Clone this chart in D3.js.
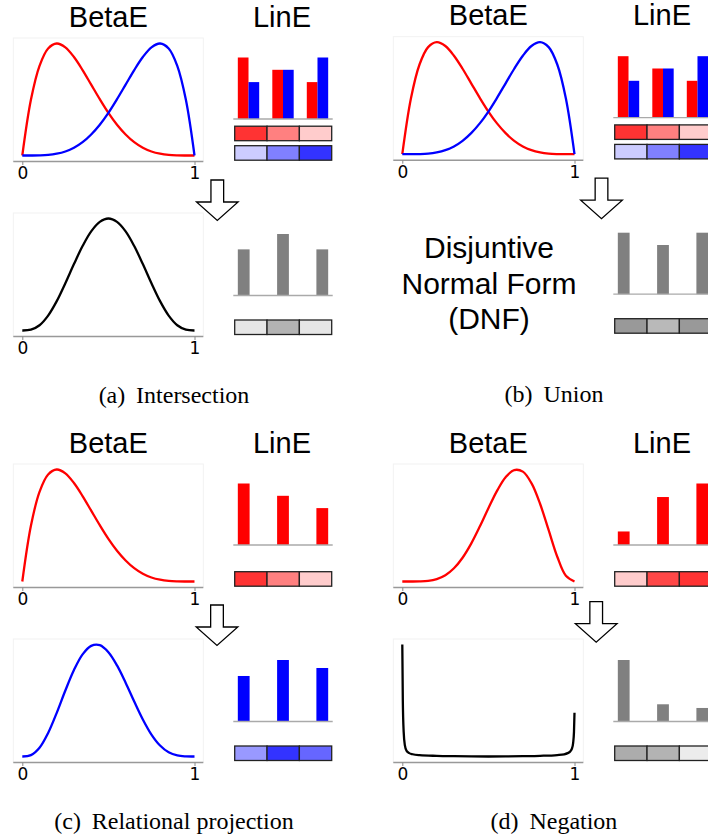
<!DOCTYPE html>
<html>
<head>
<meta charset="utf-8">
<script src="https://cdn.jsdelivr.net/npm/d3@7"></script>
<style>
  body { margin: 0; background: #fff; }
</style>
</head>
<body>
<div id="figure"></div>
<script>
let gridX = [0, 0.05, 0.1, 0.15, 0.2, 0.25, 0.3, 0.35, 0.4, 0.45, 0.5,
             0.55, 0.6, 0.65, 0.7, 0.75, 0.8, 0.85, 0.9, 0.95, 1];

// densities, scaled so the peak of each plot is 1
let betaRed  = [0, 0.497, 0.801, 0.956, 1.0, 0.966, 0.879, 0.763, 0.633, 0.503, 0.381,
                0.275, 0.188, 0.119, 0.069, 0.036, 0.016, 0.005, 0.001, 0, 0];
let betaBlue = [0, 0, 0.001, 0.005, 0.016, 0.036, 0.069, 0.119, 0.188, 0.275, 0.381,
                0.503, 0.633, 0.763, 0.879, 0.966, 1.0, 0.956, 0.801, 0.497, 0];
let betaAnd  = [0, 0.007, 0.047, 0.133, 0.262, 0.422, 0.593, 0.754, 0.885, 0.970, 1.0,
                0.970, 0.885, 0.754, 0.593, 0.422, 0.262, 0.133, 0.047, 0.007, 0];
let betaProj = [0, 0.012, 0.078, 0.210, 0.390, 0.589, 0.772, 0.912, 0.988, 0.994, 0.931,
                0.813, 0.659, 0.491, 0.331, 0.196, 0.098, 0.037, 0.009, 0.001, 0];
let betaNotIn = [0, 0, 0.001, 0.006, 0.022, 0.056, 0.118, 0.212, 0.338, 0.490, 0.654,
                 0.809, 0.931, 0.995, 0.981, 0.878, 0.694, 0.458, 0.221, 0.051, 0];
// negation output is a U shape, needs more points near the ends
let negX = [0, 0.003, 0.008, 0.015, 0.025, 0.04, 0.06, 0.1, 0.2, 0.3, 0.4, 0.5,
            0.6, 0.7, 0.8, 0.9, 0.94, 0.96, 0.975, 0.985, 0.992, 0.997, 1];
let negY = [1.0, 0.5, 0.22, 0.1, 0.05, 0.03, 0.02, 0.012, 0.006, 0.003, 0.001, 0,
            0.001, 0.003, 0.006, 0.013, 0.02, 0.03, 0.045, 0.07, 0.12, 0.22, 0.39];

// LinE bars, one value per dimension
let dims = [0, 1, 2];
let linRed   = [1.0, 0.8, 0.6];
let linBlue  = [0.6, 0.8, 1.0];
let linAnd   = [0.6, 0.8, 0.6];
let linOr    = [1.0, 0.8, 1.0];
let linProj  = [0.74, 1.0, 0.87];
let linNotIn = [0.22, 0.78, 1.0];
let linNot   = [1.0, 0.28, 0.22];

// shading of the strip cells (0 = white, 1 = full colour)
let cellRed   = [0.8, 0.5, 0.2];
let cellBlue  = [0.2, 0.5, 0.8];
let cellAnd   = [0.2, 0.6, 0.2];
let cellOr    = [0.8, 0.55, 0.8];
let cellProj  = [0.4, 0.8, 0.6];
let cellNotIn = [0.2, 0.72, 0.8];
let cellNot   = [0.65, 0.6, 0.15];

let captionTags = ["(a)", "(b)", "(c)", "(d)"];
let captionText = ["Intersection", "Union", "Relational projection", "Negation"];
let dnfLines = ["Disjuntive", "Normal Form", "(DNF)"];

const RED = "#ff0000", BLUE = "#0000ff", GRAY = "#808080";
const SANS = "Liberation Sans, Arial, sans-serif";

let svg = d3.select("#figure").append("svg")
    .attr("width", 708)
    .attr("height", 840);

function drawBeta(g, top, curves) {
    let axisY = top + 123.5;
    let x = d3.scaleLinear().domain([0, 1]).range([22.3, 194.5]);
    let y = d3.scaleLinear().domain([0, 1]).range([top + 117.5, top + 5.5]);

    // faint frame round the plot
    g.append("rect")
        .attr("x", 13.3).attr("y", top)
        .attr("width", 190).attr("height", 123.5)
        .attr("fill", "none")
        .attr("stroke", "#f2f2f2");

    g.append("line")
        .attr("x1", 13.3).attr("x2", 203.3)
        .attr("y1", axisY).attr("y2", axisY)
        .attr("stroke", "#999").attr("stroke-width", 1.6);

    let axis = d3.axisBottom(x).tickValues([0, 1]).tickFormat(d3.format("d"))
        .tickSize(3.5).tickPadding(2);
    let ax = g.append("g").attr("transform", "translate(0," + axisY + ")").call(axis);
    ax.select(".domain").remove();
    ax.selectAll("line").attr("stroke", "#888");
    ax.selectAll("text")
        .attr("font-family", "DejaVu Sans")
        .attr("font-size", 17)
        .attr("fill", "#000");

    curves.forEach(c => {
        let xs = c.xs || gridX;
        // U shaped negation keeps its sharp corners with the monotone curve
        let curve = c.xs ? d3.curveMonotoneX : d3.curveCatmullRom.alpha(0.5);
        let line = d3.line()
            .x((d, i) => x(xs[i]))
            .y(d => y(d))
            .curve(curve);
        g.append("path")
            .datum(c.ys)
            .attr("d", line)
            .attr("fill", "none")
            .attr("stroke", c.color)
            .attr("stroke-width", 2.3);
    });
}

function drawLin(g, axisY, stripBottom, series, strips) {
    let n = series.length;
    let w = n > 1 ? 0.31 : 0.3;
    let lo = -n * w / 2, hi = dims.length - 1 + n * w / 2;
    let pad = 0.05 * (hi - lo);
    let x = d3.scaleLinear().domain([lo - pad, hi + pad]).range([233.3, 332.7]);
    let maxV = d3.max(series, s => d3.max(s.vals));
    let y = d3.scaleLinear().domain([0, maxV]).range([axisY, axisY - 61.5]);

    series.forEach((s, k) => {
        g.selectAll(null)
            .data(s.vals)
            .enter().append("rect")
            .attr("x", (d, i) => x(dims[i] + (k - n / 2) * w))
            .attr("width", x(w) - x(0))
            .attr("y", d => y(d))
            .attr("height", d => y(0) - y(d))
            .attr("fill", s.color);
    });

    g.append("line")
        .attr("x1", x.range()[0]).attr("x2", x.range()[1])
        .attr("y1", axisY).attr("y2", axisY)
        .attr("stroke", "#aaa").attr("stroke-width", 1.3);

    //colour strips under the bars
    let band = d3.scaleBand().domain(dims).range([234.7, 331.7]);
    strips.forEach((st, k) => {
        let top = stripBottom - (strips.length - k) * 14.5 - (strips.length - k - 1) * 5;
        let shade = d3.scaleLinear().domain([0, 1]).range(["#ffffff", st.color])
            .interpolate(d3.interpolateRgb);
        g.selectAll(null)
            .data(st.vals)
            .enter().append("rect")
            .attr("x", (d, i) => band(dims[i]))
            .attr("y", top)
            .attr("width", band.bandwidth())
            .attr("height", 14.5)
            .attr("fill", d => shade(d))
            .attr("stroke", "#222")
            .attr("stroke-width", 1.3);
    });
}

function drawArrow(g, cx, dy) {
    let sw = 6.35, hw = 20.8;
    let t = 180 + dy, h = 202 + dy, tip = 220.5 + dy;
    let pts = [[cx - sw, t], [cx + sw, t], [cx + sw, h], [cx + hw, h],
               [cx, tip], [cx - hw, h], [cx - sw, h]];
    g.append("path")
        .attr("d", d3.line()(pts) + "Z")
        .attr("fill", "#fff")
        .attr("stroke", "#000")
        .attr("stroke-width", 1.3);
}

function drawPanel(p) {
    let g = svg.append("g").attr("transform", "translate(" + p.ox + "," + p.oy + ")");

    g.append("text").attr("x", 108.3).attr("y", 26.7)
        .attr("text-anchor", "middle")
        .style("font-family", SANS).style("font-size", "29px")
        .text("BetaE");
    g.append("text").attr("x", 282).attr("y", 26.7)
        .attr("text-anchor", "middle")
        .style("font-family", SANS).style("font-size", "29px")
        .text("LinE");

    drawBeta(g, 38, p.betaTop);
    drawLin(g, 119, 160.2, p.linTop, p.stripTop);
    drawArrow(g, p.arrowX, p.arrowDy);

    if (p.betaBottom) {
        drawBeta(g, 213, p.betaBottom);
    } else {
        g.selectAll(null)
            .data(dnfLines)
            .enter().append("text")
            .attr("x", 109)
            .attr("y", (d, i) => 259.6 + i * 35.5)
            .attr("text-anchor", "middle")
            .style("font-family", SANS).style("font-size", "30px")
            .text(d => d);
    }
    drawLin(g, 295.5, 334.5, p.linBottom, p.stripBottom);

    let cap = g.append("text").attr("x", 174).attr("y", 403.3)
        .attr("text-anchor", "middle")
        .style("font-family", "Liberation Serif, Times New Roman, serif")
        .style("font-size", "24px");
    cap.append("tspan").text(captionTags[p.idx]);
    cap.append("tspan").attr("dx", "0.45em").text(captionText[p.idx]);
}

let panels = [
    {idx: 0, ox: 0, oy: 0, arrowX: 217.3, arrowDy: 0,
     betaTop: [{ys: betaRed, color: RED}, {ys: betaBlue, color: BLUE}],
     betaBottom: [{ys: betaAnd, color: "#000"}],
     linTop: [{vals: linRed, color: RED}, {vals: linBlue, color: BLUE}],
     stripTop: [{vals: cellRed, color: RED}, {vals: cellBlue, color: BLUE}],
     linBottom: [{vals: linAnd, color: GRAY}],
     stripBottom: [{vals: cellAnd, color: GRAY}]},
    {idx: 1, ox: 380, oy: -1.3, arrowX: 221.5, arrowDy: -0.5,
     betaTop: [{ys: betaRed, color: RED}, {ys: betaBlue, color: BLUE}],
     betaBottom: null,
     linTop: [{vals: linRed, color: RED}, {vals: linBlue, color: BLUE}],
     stripTop: [{vals: cellRed, color: RED}, {vals: cellBlue, color: BLUE}],
     linBottom: [{vals: linOr, color: GRAY}],
     stripBottom: [{vals: cellOr, color: GRAY}]},
    {idx: 2, ox: 0, oy: 426, arrowX: 217, arrowDy: -1,
     betaTop: [{ys: betaRed, color: RED}],
     betaBottom: [{ys: betaProj, color: BLUE}],
     linTop: [{vals: linRed, color: RED}],
     stripTop: [{vals: cellRed, color: RED}],
     linBottom: [{vals: linProj, color: BLUE}],
     stripBottom: [{vals: cellProj, color: BLUE}]},
    {idx: 3, ox: 380, oy: 426, arrowX: 216.2, arrowDy: -4.3,
     betaTop: [{ys: betaNotIn, color: RED}],
     betaBottom: [{ys: negY, xs: negX, color: "#000"}],
     linTop: [{vals: linNotIn, color: RED}],
     stripTop: [{vals: cellNotIn, color: RED}],
     linBottom: [{vals: linNot, color: GRAY}],
     stripBottom: [{vals: cellNot, color: GRAY}]}
];

panels.forEach(drawPanel);
</script>
</body>
</html>
